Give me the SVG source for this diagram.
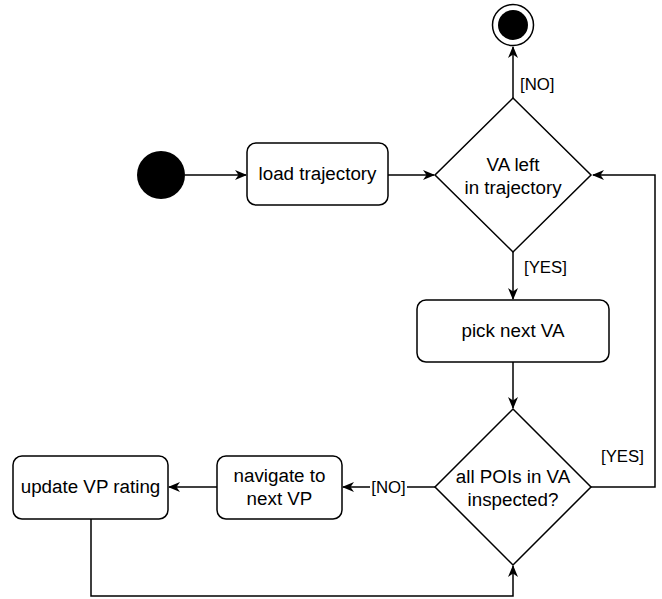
<svg xmlns="http://www.w3.org/2000/svg" width="662" height="599" viewBox="0 0 662 599">
<style>
.box{fill:#fff;stroke:#000;stroke-width:1.5}
.t{font-family:"Liberation Sans",Arial,sans-serif;font-size:18.8px;fill:#000;text-anchor:middle}
.l{font-family:"Liberation Sans",Arial,sans-serif;font-size:16.8px;fill:#000}
.c{fill:none;stroke:#000;stroke-width:1.5}
</style>
<defs>
<marker id="a" viewBox="0 0 12 10" markerWidth="12" markerHeight="10" refX="11" refY="5" orient="auto" markerUnits="userSpaceOnUse">
<path d="M0,0 L12,5 L0,10 L3.5,5 Z" fill="#000"/>
</marker>
</defs>
<g id="connectors">
<line class="c" x1="185" y1="175" x2="246" y2="175" marker-end="url(#a)"/>
<line class="c" x1="388" y1="175" x2="434" y2="175" marker-end="url(#a)"/>
<line class="c" x1="513" y1="98" x2="513" y2="47" marker-end="url(#a)"/>
<line class="c" x1="513" y1="252" x2="513" y2="299" marker-end="url(#a)"/>
<line class="c" x1="513" y1="362" x2="513" y2="408" marker-end="url(#a)"/>
<polyline class="c" points="591,487 655,487 655,175 593,175" marker-end="url(#a)"/>
<line class="c" x1="435" y1="487" x2="343" y2="487" marker-end="url(#a)"/>
<line class="c" x1="217" y1="487" x2="169" y2="487" marker-end="url(#a)"/>
<polyline class="c" points="91,519 91,596 513,596 513,566" marker-end="url(#a)"/>
<text class="l" x="520" y="90">[NO]</text>
<text class="l" x="524" y="273">[YES]</text>
<text class="l" x="601" y="462">[YES]</text>
<rect x="370" y="476" width="37" height="22" fill="#fff"/>
<text class="l" x="388.5" y="493" text-anchor="middle">[NO]</text>
</g>
<g id="start"><circle cx="161" cy="175" r="24" fill="#000"/></g>
<g id="end"><circle cx="513" cy="25" r="20.5" fill="#fff" stroke="#000" stroke-width="1.5"/><circle cx="513" cy="25" r="15" fill="#000"/></g>
<g id="load"><rect class="box" x="247" y="143" width="141" height="62" rx="9"/><text class="t" x="317.5" y="180">load trajectory</text></g>
<g id="dec1"><polygon class="box" points="513,98 591,175 513,252 435,175"/><text class="t" x="513" y="171">VA left</text><text class="t" x="513" y="194">in trajectory</text></g>
<g id="pick"><rect class="box" x="417" y="300" width="192" height="62" rx="9"/><text class="t" x="513" y="337">pick next VA</text></g>
<g id="dec2"><polygon class="box" points="513,409 591,487 513,565 435,487"/><text class="t" x="513" y="483">all POIs in VA</text><text class="t" x="513" y="506">inspected?</text></g>
<g id="navigate"><rect class="box" x="217" y="456" width="125" height="63" rx="9"/><text class="t" x="279.5" y="482">navigate to</text><text class="t" x="279.5" y="505">next VP</text></g>
<g id="update"><rect class="box" x="13" y="456" width="155" height="63" rx="9"/><text class="t" x="90.5" y="493">update VP rating</text></g>
</svg>
